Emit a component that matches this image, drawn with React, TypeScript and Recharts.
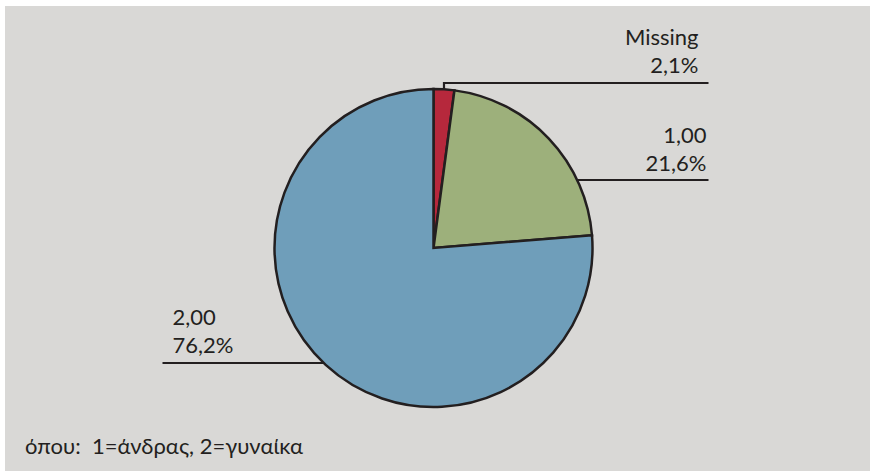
import { PieChart, Pie, Cell } from "recharts";

// categories and shares (percent)
const categories = ["Missing", "1,00", "2,00"];
const shares = [2.1, 21.6, 76.2];
const percentLabels = ["2,1%", "21,6%", "76,2%"];
const sliceColors = ["#b6283c", "#9db07b", "#6f9eba"];

const pieData = categories.map((name, i) => ({ name, value: shares[i] }));

const INK = "#231f20";
const FONT = "Lato, 'Open Sans', sans-serif";

// leader line and text placement for each slice, relative to the pie centre
const labelLayout = [
  { side: "right", lineDy: -165, lineEndDx: 275, textDx: 265, firstDy: -203 },
  { side: "right", lineDy: -68, lineEndDx: 275, textDx: 273, firstDy: -105 },
  { side: "left", lineDy: 115, lineEndDx: -271, textDx: -261, firstDy: 77 },
];

function SliceLabel(props: any) {
  const { cx, cy, midAngle, outerRadius, index } = props;
  const lay = labelLayout[index];
  const lineY = cy + lay.lineDy;
  let path = "";
  if (Math.abs(lay.lineDy) > outerRadius) {
    // slice at the top: go straight up from the arc, then across
    const rad = (midAngle * Math.PI) / 180;
    const ax = cx + outerRadius * Math.cos(rad);
    const ay = cy - outerRadius * Math.sin(rad);
    path = `M${ax},${ay} L${ax},${lineY} L${cx + lay.lineEndDx},${lineY}`;
  } else {
    const half = Math.sqrt(outerRadius * outerRadius - lay.lineDy * lay.lineDy);
    const edgeX = lay.side === "right" ? cx + half : cx - half;
    path = `M${edgeX},${lineY} L${cx + lay.lineEndDx},${lineY}`;
  }
  const tx = cx + lay.textDx;
  const anchor = lay.side === "right" ? "end" : "start";
  return (
    <g>
      <path d={path} stroke={INK} strokeWidth={2.2} fill="none" />
      <text x={tx} y={cy + lay.firstDy} textAnchor={anchor} fill={INK} fontSize={22} fontFamily={FONT}>
        {categories[index]}
      </text>
      <text x={tx} y={cy + lay.firstDy + 28} textAnchor={anchor} fill={INK} fontSize={22} fontFamily={FONT}>
        {percentLabels[index]}
      </text>
    </g>
  );
}

export default function App() {
  return (
    <div style={{ position: "absolute", left: 0, top: 0, width: 870, height: 471, background: "#ffffff" }}>
      <div style={{ position: "absolute", left: 5, top: 6, width: 865, height: 465, background: "#d9d8d6" }} />
      <div style={{ position: "absolute", left: 0, top: 0 }}>
        <PieChart width={870} height={471} margin={{ top: 0, right: 0, bottom: 0, left: 0 }}>
          <Pie
            data={pieData}
            dataKey="value"
            nameKey="name"
            cx={433.5}
            cy={248}
            outerRadius={159}
            startAngle={90}
            endAngle={-270}
            stroke={INK}
            strokeWidth={2.5}
            labelLine={false}
            label={SliceLabel}
            isAnimationActive={false}
          >
            {pieData.map((d, i) => (
              <Cell key={d.name} fill={sliceColors[i]} />
            ))}
          </Pie>
        </PieChart>
      </div>
      <div
        style={{
          position: "absolute",
          left: 25,
          top: 432,
          fontFamily: FONT,
          fontSize: 22,
          color: INK,
          whiteSpace: "pre",
          lineHeight: "28px",
        }}
      >
        {"όπου:  1=άνδρας, 2=γυναίκα"}
      </div>
    </div>
  );
}
